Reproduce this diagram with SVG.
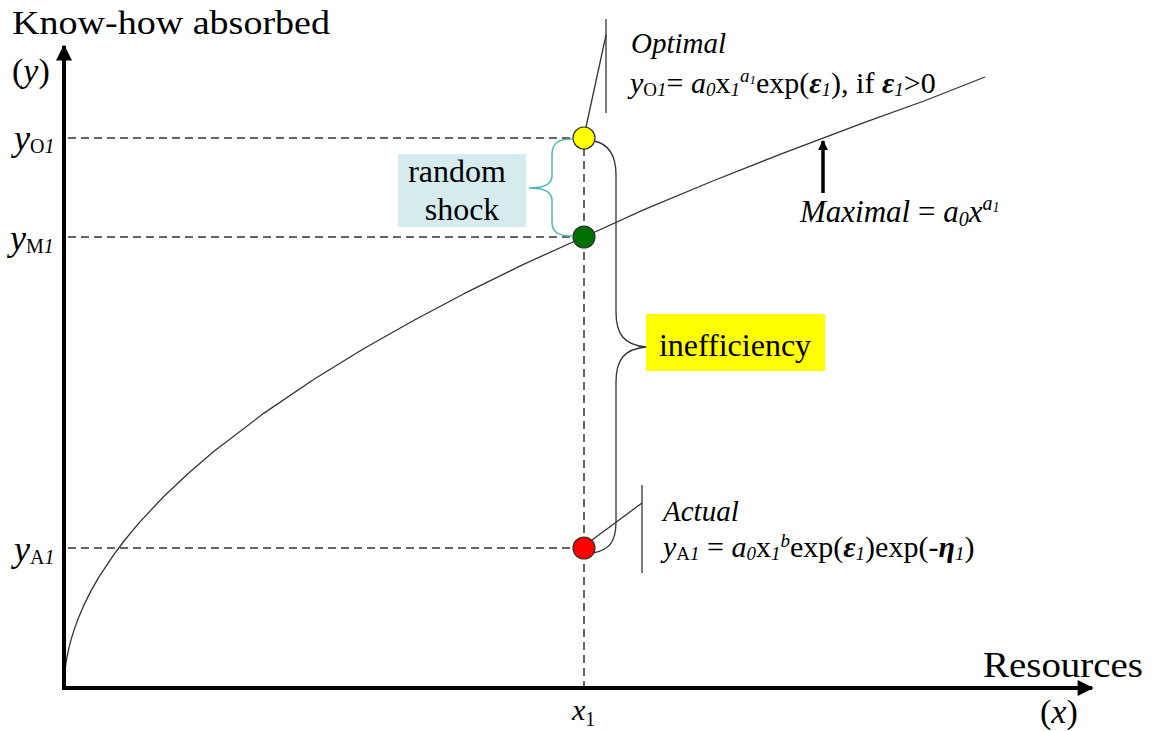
<svg xmlns="http://www.w3.org/2000/svg" width="1158" height="731" viewBox="0 0 1158 731">
<style>
.t{font-family:"Liberation Serif","Times New Roman",serif;fill:#000}
.i{font-style:italic}
.b{font-weight:bold}
.dash{stroke:#333;stroke-width:1.5;stroke-dasharray:8 5;fill:none}
.thin{stroke:#333;stroke-width:1.3;fill:none}
.pt{stroke:#333;stroke-width:1.2}
</style>
<defs>
<marker id="ah" viewBox="0 0 10 10" refX="9" refY="5" markerWidth="4.5" markerHeight="4" orient="auto" markerUnits="strokeWidth">
<path d="M0,0 L10,5 L0,10 Z" fill="#000"/>
</marker>
<marker id="ah2" viewBox="0 0 10 10" refX="9" refY="5" markerWidth="3" markerHeight="3" orient="auto" markerUnits="strokeWidth">
<path d="M0,0 L10,5 L0,10 Z" fill="#000"/>
</marker>
</defs>
<rect width="1158" height="731" fill="#fff"/>

<g id="connectors">
<line class="dash" x1="68" y1="138" x2="574" y2="138"/>
<line class="dash" x1="68" y1="237" x2="574" y2="237"/>
<line class="dash" x1="68" y1="548" x2="574" y2="548"/>
<line class="dash" x1="584" y1="148" x2="584" y2="686"/>
<polyline class="thin" stroke-linejoin="round" points="64,688 64.5,675.8 65,670.5 66,662.9 67,657 69,647.6 71,639.9 74,630.1 78,619 84,604.9 91,590.9 99,576.9 114,554.3 124,541 139,522.9 164,496.2 189,472.7 214,451.2 264,413.1 314,379.2 364,348.5 414,320.2 464,293.7 524,264.1 584,237 644,209.7 714,180.5 784,152.8 864,122.6 924,101 985,77"/>
<path d="M572,139 C558,139 552,143 552,155 L552,176 C552,184 545,188 529,188 C545,188 552,192 552,200 L552,222 C552,232 558,236 572,236" fill="none" stroke="#4db8b8" stroke-width="1.5"/>
<path class="thin" d="M594,141 C609,144 616,155 616,175 L616,312 C616,334 624,345 646,347 C624,349 616,360 616,382 L616,522 C616,542 609,550 593,553" stroke="#555" stroke-width="1.6"/>
<line class="thin" x1="586" y1="127" x2="606" y2="35"/>
<line class="thin" x1="606" y1="19" x2="606" y2="113"/>
<line class="thin" x1="592" y1="540" x2="642" y2="503"/>
<line class="thin" x1="642" y1="485" x2="642" y2="573"/>
<line x1="823" y1="193" x2="823" y2="141" stroke="#000" stroke-width="3.5" marker-end="url(#ah2)"/>
<line x1="64" y1="690" x2="64" y2="46" stroke="#000" stroke-width="4" marker-end="url(#ah)"/>
<line x1="62" y1="688" x2="1092" y2="688" stroke="#000" stroke-width="4" marker-end="url(#ah)"/>
</g>

<g id="point-optimal"><circle class="pt" cx="584" cy="138" r="11" fill="#ffff00"/></g>
<g id="point-maximal"><circle class="pt" cx="584" cy="237" r="11" fill="#007000"/></g>
<g id="point-actual"><circle class="pt" cx="584" cy="548" r="11" fill="#ff0000"/></g>

<g id="random-shock">
<rect x="398" y="154" width="128" height="73" fill="#d6ebee"/>
<text class="t" x="457" y="182" font-size="32" text-anchor="middle">random</text>
<text class="t" x="462" y="220" font-size="32" text-anchor="middle">shock</text>
</g>

<g id="inefficiency">
<rect x="646" y="314" width="179" height="57" fill="#ffff00"/>
<text class="t" x="735" y="356" font-size="32" text-anchor="middle">inefficiency</text>
</g>

<g id="y-axis-label">
<text class="t" x="12" y="34" font-size="34" textLength="318" lengthAdjust="spacingAndGlyphs">Know-how absorbed</text>
<text class="t" x="12" y="82" font-size="34">(<tspan class="i">y</tspan>)</text>
</g>

<g id="x-axis-label">
<text class="t" x="983" y="677" font-size="35" textLength="160" lengthAdjust="spacingAndGlyphs">Resources</text>
<text class="t" x="1040" y="723" font-size="34">(<tspan class="i">x</tspan>)</text>
<text class="t" x="572" y="720" font-size="30"><tspan class="i">x</tspan><tspan font-size="20" dy="6">1</tspan></text>
</g>

<g id="tick-labels">
<text class="t" x="14" y="150" font-size="36"><tspan class="i">y</tspan><tspan font-size="20" dy="3">O</tspan><tspan class="i" font-size="20">1</tspan></text>
<text class="t" x="10" y="250" font-size="36"><tspan class="i">y</tspan><tspan font-size="20" dy="3">M</tspan><tspan class="i" font-size="20">1</tspan></text>
<text class="t" x="14" y="561" font-size="36"><tspan class="i">y</tspan><tspan font-size="20" dy="3">A</tspan><tspan class="i" font-size="20">1</tspan></text>
</g>

<g id="optimal-label">
<text class="t i" x="631" y="53" font-size="29">Optimal</text>
<text class="t" x="630" y="93" font-size="30"><tspan class="i">y</tspan><tspan font-size="19" dy="3">O</tspan><tspan class="i" font-size="19">1</tspan><tspan dy="-3">= </tspan><tspan class="i">a</tspan><tspan class="i" font-size="19" dy="3">0</tspan><tspan dy="-3">x</tspan><tspan class="i" font-size="19" dy="3">1</tspan><tspan class="i" font-size="19" dy="-14">a</tspan><tspan class="i" font-size="13" dy="2">1</tspan><tspan dy="9">exp(</tspan><tspan class="i b">ε</tspan><tspan class="i" font-size="19" dy="3">1</tspan><tspan dy="-3">), if </tspan><tspan class="i b">ε</tspan><tspan class="i" font-size="19" dy="3">1</tspan><tspan dy="-3">&gt;0</tspan></text>
</g>

<g id="actual-label">
<text class="t i" x="663" y="521" font-size="29">Actual</text>
<text class="t" x="663" y="557" font-size="30"><tspan class="i">y</tspan><tspan font-size="19" dy="3">A</tspan><tspan class="i" font-size="19">1</tspan><tspan dy="-3"> = </tspan><tspan class="i">a</tspan><tspan class="i" font-size="19" dy="3">0</tspan><tspan dy="-3">x</tspan><tspan class="i" font-size="19" dy="3">1</tspan><tspan class="i" font-size="19" dy="-13">b</tspan><tspan dy="10">exp(</tspan><tspan class="i b">ε</tspan><tspan class="i" font-size="19" dy="3">1</tspan><tspan dy="-3">)exp(-</tspan><tspan class="i b">η</tspan><tspan class="i" font-size="19" dy="3">1</tspan><tspan dy="-3">)</tspan></text>
</g>

<g id="maximal-label">
<text class="t" x="800" y="222" font-size="31"><tspan class="i">Maximal</tspan> = <tspan class="i">a</tspan><tspan class="i" font-size="20" dy="4">0</tspan><tspan class="i" dy="-4">x</tspan><tspan class="i" font-size="20" dy="-12">a</tspan><tspan class="i" font-size="14" dy="2">1</tspan></text>
</g>
</svg>
